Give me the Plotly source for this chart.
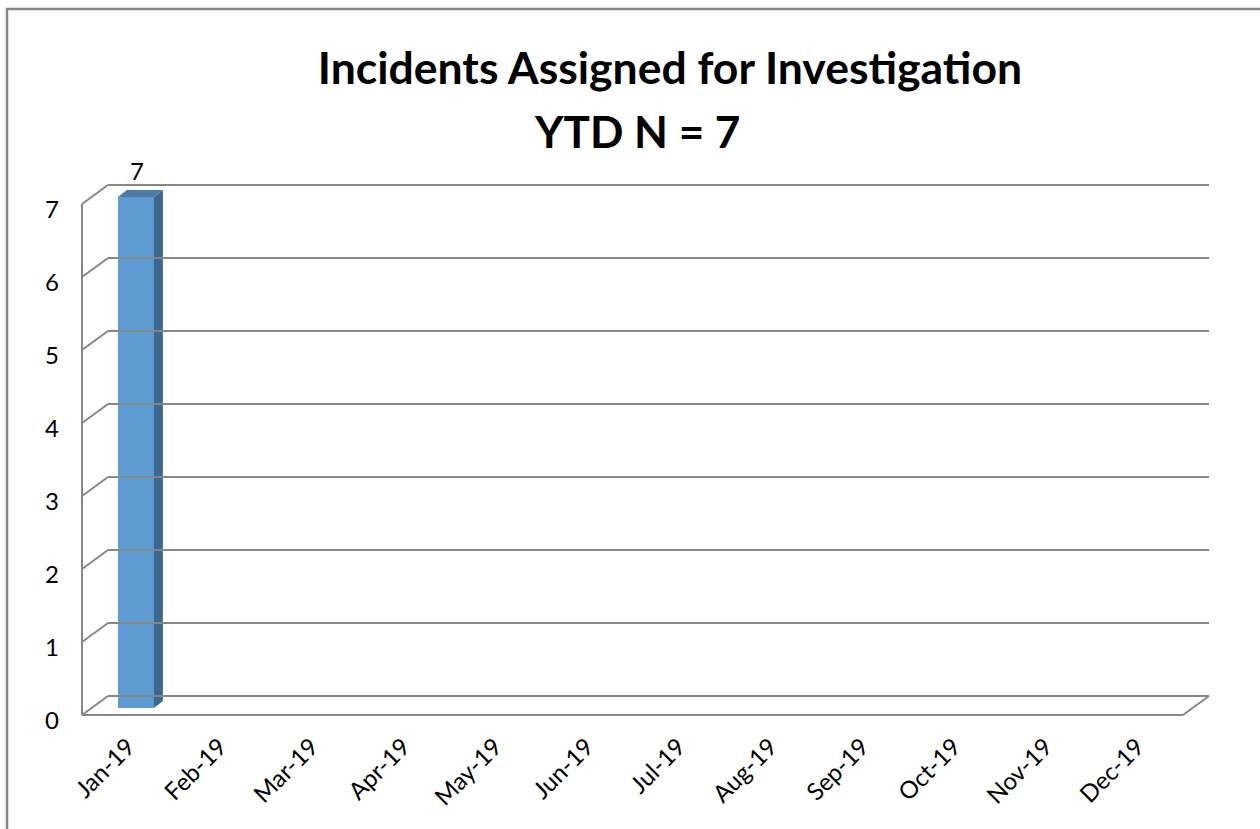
import plotly.graph_objects as go

# ---------------- data ----------------
months = ["Jan-19", "Feb-19", "Mar-19", "Apr-19", "May-19", "Jun-19",
          "Jul-19", "Aug-19", "Sep-19", "Oct-19", "Nov-19", "Dec-19"]
incidents = [7, None, None, None, None, None, None, None, None, None, None, None]
y_ticks = [0, 1, 2, 3, 4, 5, 6, 7]
title_line1 = "Incidents Assigned for Investigation"
title_line2 = "YTD N = 7"

# ---------------- layout geometry (pixels) ----------------
W, H = 1260, 829
PL, PR, PT, PB = 75, 1220, 175, 725       # plot area edges in px
FRONT_X0 = 82                              # front-plane left edge px
STEP = 91.75                               # px per category
FRONT_Y0 = 715                             # front-plane zero px
UNIT = 73.0                                # px per y unit
WALL_DX, WALL_DY = 26, 19                  # depth of back wall
BAR_DX, BAR_DY = 8, 7                      # bar front-face depth shift
SIDE_DX, SIDE_DY = 9, 7                    # bar thickness (3D)
BAR_W = 36

def xd(px_off):
    return px_off / STEP

def yd(px_off):
    return px_off / UNIT

x_range = [(PL - FRONT_X0) / STEP - 0.5, (PR - FRONT_X0) / STEP - 0.5]
y_range = [(FRONT_Y0 - PB) / UNIT, (FRONT_Y0 - PT) / UNIT]

GRID = "#878787"
FRONT = "#5f9bd3"
SIDE = "#3e678f"
TOP = "#4a7cab"
FONT = "Lato, Carlito, sans-serif"

idx = list(range(len(months)))
bar_width = xd(BAR_W)
bar_offset = -bar_width / 2 + xd(BAR_DX)
bar_base = yd(BAR_DY)

fig = go.Figure()

# grid / wall shapes
shapes = []
x_front_l = -0.5
x_front_r = len(months) - 0.5
for v in y_ticks:
    shapes.append(dict(type="line", xref="x", yref="y",
                       x0=x_front_l + xd(WALL_DX), x1=x_front_r + xd(WALL_DX),
                       y0=v + yd(WALL_DY), y1=v + yd(WALL_DY),
                       line=dict(color=GRID, width=2)))
    shapes.append(dict(type="line", xref="x", yref="y",
                       x0=x_front_l, x1=x_front_l + xd(WALL_DX),
                       y0=v, y1=v + yd(WALL_DY),
                       line=dict(color=GRID, width=2)))
shapes.append(dict(type="line", xref="x", yref="y",
                   x0=x_front_l, x1=x_front_l, y0=y_ticks[0], y1=y_ticks[-1],
                   line=dict(color=GRID, width=2)))
shapes.append(dict(type="line", xref="x", yref="y",
                   x0=x_front_l, x1=x_front_r, y0=0, y1=0,
                   line=dict(color=GRID, width=2)))
shapes.append(dict(type="line", xref="x", yref="y",
                   x0=x_front_r, x1=x_front_r + xd(WALL_DX), y0=0, y1=yd(WALL_DY),
                   line=dict(color=GRID, width=2)))

# chart border (paper coords are relative to the plot area)
pw, ph = PR - PL, PB - PT
shapes.append(dict(type="rect", xref="paper", yref="paper",
                   x0=(7 - PL) / pw, x1=(W + 3 - PL) / pw,
                   y0=(PB - (H + 3)) / ph, y1=(PB - 9) / ph,
                   line=dict(color="#878787", width=2.5), fillcolor="rgba(0,0,0,0)",
                   layer="below"))

# front face of bars
fig.add_trace(go.Bar(x=idx, y=incidents, base=bar_base, width=bar_width,
                     offset=bar_offset, marker=dict(color=FRONT, line=dict(width=0)),
                     hoverinfo="skip", showlegend=False))

annotations = []
for i, v in zip(idx, incidents):
    if v is None:
        continue
    xl = i + bar_offset
    xr = xl + bar_width
    b = bar_base
    t = bar_base + v
    sx, sy = xd(SIDE_DX), yd(SIDE_DY)
    fig.add_trace(go.Scatter(x=[xr, xr + sx, xr + sx, xr, xr],
                             y=[b, b + sy, t + sy, t, b],
                             fill="toself", fillcolor=SIDE, mode="lines",
                             line=dict(width=0, color=SIDE),
                             hoverinfo="skip", showlegend=False))
    fig.add_trace(go.Scatter(x=[xl, xl + sx, xr + sx, xr, xl],
                             y=[t, t + sy, t + sy, t, t],
                             fill="toself", fillcolor=TOP, mode="lines",
                             line=dict(width=0, color=TOP),
                             hoverinfo="skip", showlegend=False))
    annotations.append(dict(x=(xl + xr) / 2 + xd(1), y=t + sy, xref="x", yref="y",
                            text=str(v), showarrow=False, yanchor="bottom",
                            yshift=3, font=dict(family=FONT, size=24, color="#000")))

annotations.append(dict(x=(637 - PL) / pw, y=(PB - 131) / ph, xref="paper", yref="paper",
                        text="<b>" + title_line2 + "</b>", showarrow=False,
                        xanchor="center", yanchor="middle",
                        font=dict(family=FONT, size=44, color="#000")))

fig.update_layout(
    width=W, height=H, autosize=False,
    margin=dict(l=PL, r=W - PR, t=PT, b=H - PB, pad=0),
    paper_bgcolor="white", plot_bgcolor="white",
    title=dict(text="<b>" + title_line1 + "</b>", x=670 / W, xanchor="center",
               y=1 - 68 / H, yanchor="middle",
               font=dict(family=FONT, size=44.5, color="#000")),
    xaxis=dict(range=x_range, tickmode="array", tickvals=idx, ticktext=months,
               tickangle=-45, showgrid=False, zeroline=False, showline=False,
               ticks="", ticklabelstandoff=2,
               tickfont=dict(family=FONT, size=24, color="#000"), fixedrange=True),
    yaxis=dict(range=y_range, tickmode="array", tickvals=y_ticks,
               ticktext=[str(t) for t in y_ticks],
               showgrid=False, zeroline=False, showline=False, ticks="",
               ticklabelstandoff=15, ticklabelshift=6,
               tickfont=dict(family=FONT, size=24, color="#000"), fixedrange=True),
    shapes=shapes, annotations=annotations, bargap=0,
)

fig.write_html("out.html", config={"displayModeBar": False},
               post_script="document.body.style.margin='0';")
